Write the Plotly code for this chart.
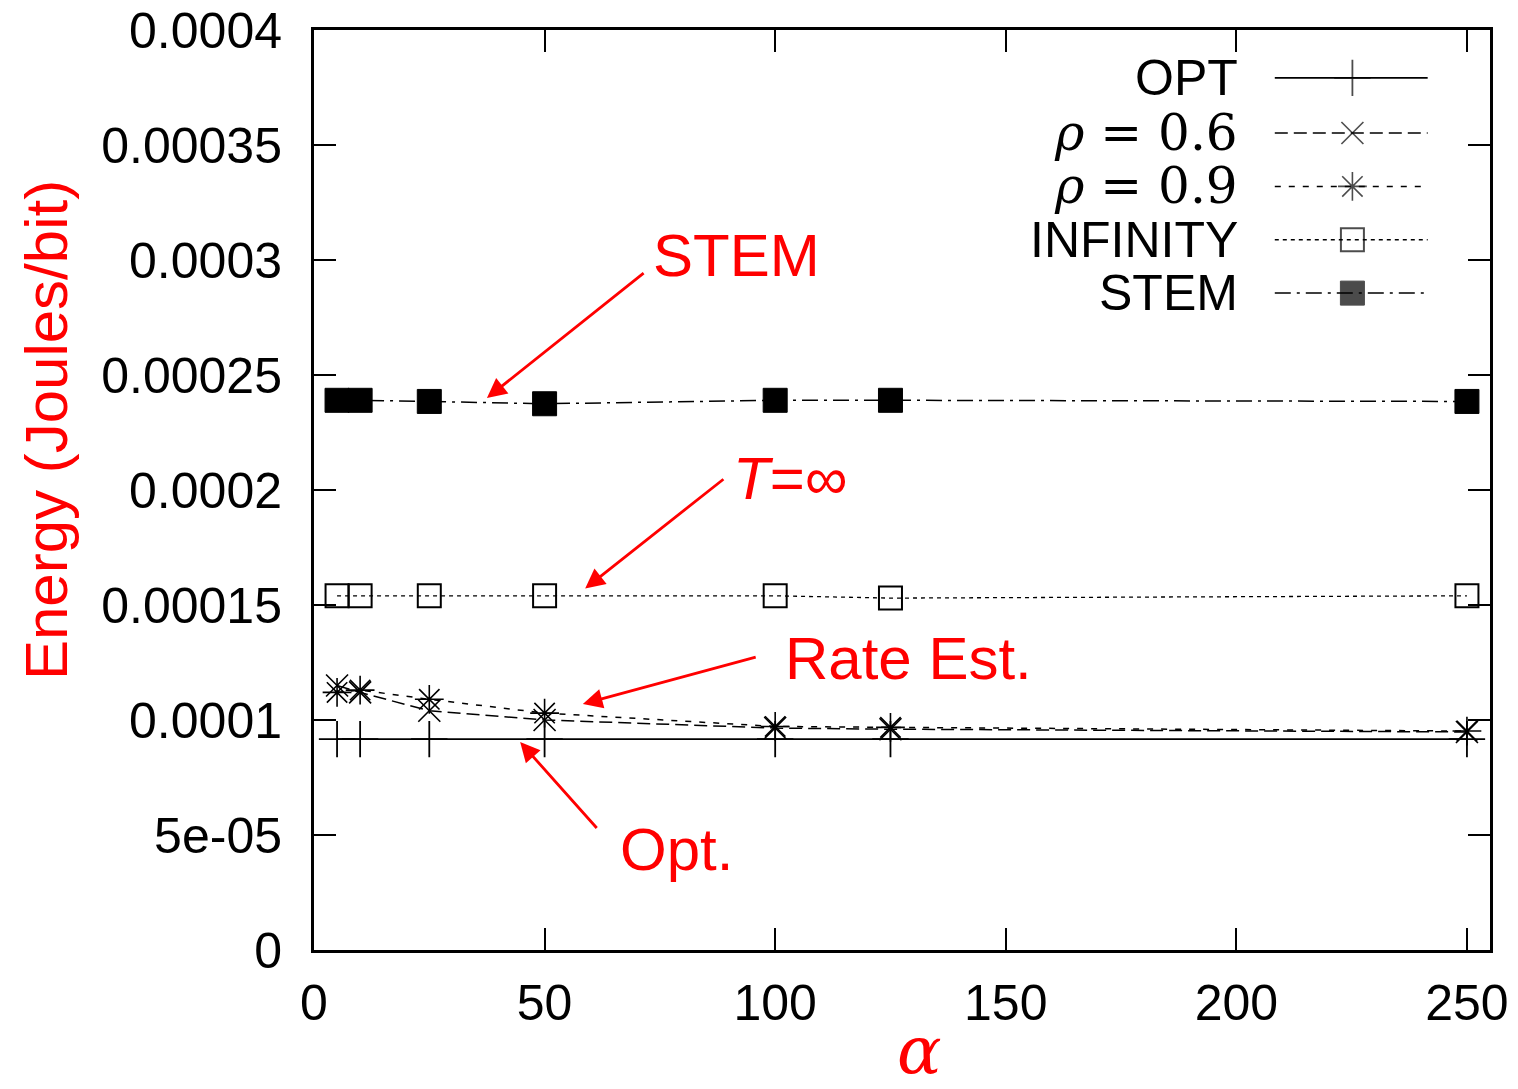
import plotly.graph_objects as go

# ---- data ----
alpha = [5, 10, 25, 50, 100, 125, 250]
opt = [9.17e-05, 9.17e-05, 9.17e-05, 9.17e-05, 9.17e-05, 9.17e-05, 9.17e-05]
rho06 = [0.000115, 0.000112, 0.000104, 0.0001, 9.65e-05, 9.6e-05, 9.48e-05]
rho09 = [0.000112, 0.000113, 0.000109, 0.000103, 9.72e-05, 9.68e-05, 9.52e-05]
infinity = [0.000154, 0.000154, 0.000154, 0.000154, 0.000154, 0.000153, 0.000154]
stem = [0.000239, 0.000239, 0.0002385, 0.0002375, 0.000239, 0.000239, 0.0002385]

series_names = ["OPT", "<i>ρ</i> = 0.6", "<i>ρ</i> = 0.9", "INFINITY", "STEM"]
y_ticks = [0, 5e-05, 0.0001, 0.00015, 0.0002, 0.00025, 0.0003, 0.00035, 0.0004]
y_tick_text = ["0", "5e-05", "0.0001", "0.00015", "0.0002", "0.00025", "0.0003", "0.00035", "0.0004"]
x_ticks = [0, 50, 100, 150, 200, 250]

styles = [
    dict(line=dict(color="black", width=1.8, dash="solid"),
         marker=dict(symbol="cross-thin-open", size=26, line=dict(color="black", width=1.8))),
    dict(line=dict(color="black", width=1.5, dash="13px,6px"),
         marker=dict(symbol="x-thin-open", size=22, line=dict(color="black", width=1.6))),
    dict(line=dict(color="black", width=1.5, dash="6px,8px"),
         marker=dict(symbol="asterisk-open", size=24, line=dict(color="black", width=1.6))),
    dict(line=dict(color="black", width=1.3, dash="4px,4px"),
         marker=dict(symbol="square-open", size=23, line=dict(color="black", width=2))),
    dict(line=dict(color="black", width=1.5, dash="16px,6px,3px,6px"),
         marker=dict(symbol="square", size=24, color="black", line=dict(color="black", width=1))),
]
values = [opt, rho06, rho09, infinity, stem]

fig = go.Figure()
for name, vals, st in zip(series_names, values, styles):
    fig.add_trace(go.Scatter(x=alpha, y=vals, mode="lines+markers", name=name,
                             line=st["line"], marker=st["marker"], showlegend=False))

# ---- custom legend (text left of sample, like gnuplot) ----
leg_rows = [0.948, 0.888, 0.830, 0.772, 0.714]
leg_x = [0.817, 0.883, 0.947]
for name, row, st in zip(series_names, leg_rows, styles):
    m = dict(st["marker"])
    m["size"] = [0, st["marker"]["size"], 0]
    fig.add_trace(go.Scatter(x=leg_x, y=[row] * 3, mode="lines+markers", xaxis="x2", yaxis="y2",
                             line=st["line"], marker=m, showlegend=False, hoverinfo="skip"))
    is_rho = "ρ" in name
    fig.add_annotation(xref="paper", yref="paper", x=0.787, y=row, xanchor="right", yanchor="middle",
                       text=name, showarrow=False,
                       font=dict(family="DejaVu Serif" if is_rho else "Liberation Sans",
                                 size=50, color="black"))

red = "#ff0000"
# arrows
arrows = [
    (37.5, 0.000240, 71.8, 0.0002948),
    (58.8, 0.0001572, 89.1, 0.0002052),
    (58.3, 0.000107, 96.1, 0.0001275),
    (44.7, 0.0000904, 61.6, 0.0000524),
]
for hx, hy, tx, ty in arrows:
    fig.add_annotation(x=hx, y=hy, ax=tx, ay=ty, axref="x", ayref="y", text="",
                       showarrow=True, arrowhead=2, arrowsize=1.4, arrowwidth=2.8, arrowcolor=red)
labels = [
    (91.7, 0.000302, "STEM"),
    (103.2, 0.000205, "<i>T</i>=∞"),
    (128.8, 0.0001266, "Rate Est."),
    (78.5, 0.0000437, "Opt."),
]
for lx, ly, t in labels:
    fig.add_annotation(x=lx, y=ly, text=t, showarrow=False,
                       font=dict(family="Liberation Sans", size=60, color=red))

# axis titles as annotations for precise placement
fig.add_annotation(xref="paper", yref="paper", x=-0.228, y=0.565, text="Energy (Joules/bit)",
                   textangle=-90, showarrow=False, xanchor="center", yanchor="middle",
                   font=dict(family="Liberation Sans", size=60, color=red))
fig.add_annotation(xref="paper", yref="paper", x=0.515, y=-0.1087, text="<i>α</i>",
                   showarrow=False, xanchor="center", yanchor="middle",
                   font=dict(family="DejaVu Serif", size=66, color=red))

fig.update_layout(
    width=1518, height=1089,
    margin=dict(l=314, r=28, t=30, b=139, autoexpand=False),
    plot_bgcolor="white", paper_bgcolor="white",
    font=dict(family="Liberation Sans", size=50, color="black"),
    xaxis=dict(range=[0, 255], tickvals=x_ticks, ticks="inside", ticklen=22, tickwidth=2.2,
               tickcolor="black", showline=True, linewidth=3, linecolor="black", mirror="ticks",
               showgrid=False, zeroline=False, ticklabelstandoff=7, automargin=False,
               ticklabeloverflow="allow", tickfont=dict(size=50)),
    yaxis=dict(range=[0, 0.0004], tickvals=y_ticks, ticktext=y_tick_text, ticks="inside",
               ticklen=22, tickwidth=2.2, tickcolor="black", showline=True, linewidth=3,
               linecolor="black", mirror="ticks", showgrid=False, zeroline=False,
               ticklabelstandoff=19, automargin=False, ticklabeloverflow="allow",
               tickfont=dict(size=50)),
    xaxis2=dict(range=[0, 1], overlaying="x", visible=False, domain=[0, 1]),
    yaxis2=dict(range=[0, 1], overlaying="y", visible=False),
)

# remove the default page margin so the figure fills the window exactly
fig.write_html("out.html", config={"displayModeBar": False},
               post_script="document.body.style.margin='0';document.body.style.overflow='hidden';")
